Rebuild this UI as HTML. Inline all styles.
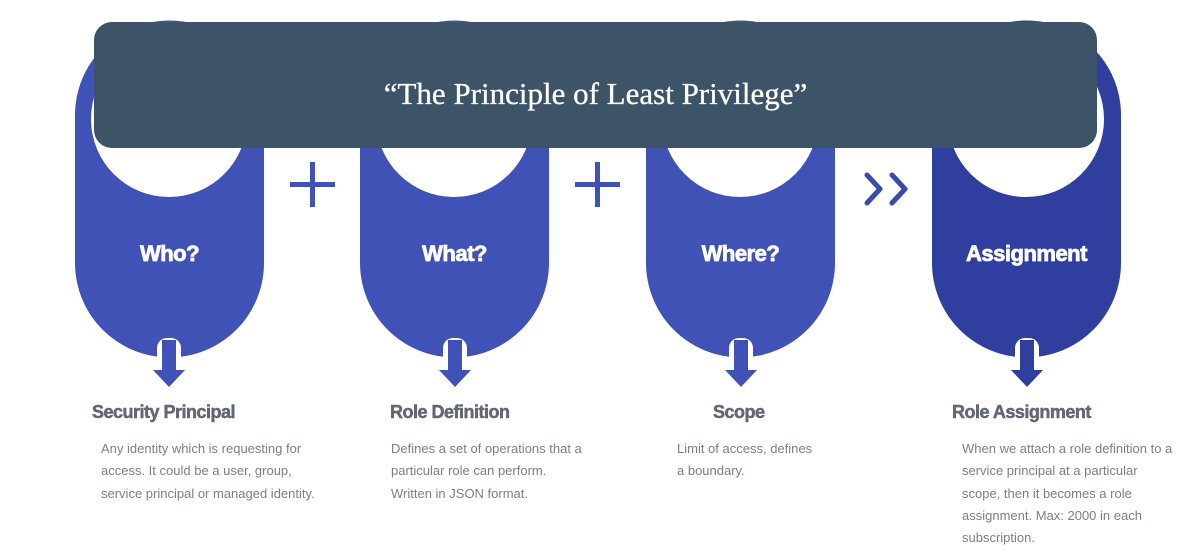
<!DOCTYPE html>
<html><head><meta charset="utf-8"><style>
body{margin:0;width:1195px;height:560px;background:#fff;position:relative;overflow:hidden;font-family:"Liberation Sans",sans-serif}
.t{position:absolute;color:#626873;font-weight:bold;font-size:18px;letter-spacing:-0.5px;-webkit-text-stroke:0.5px #626873}
.b{position:absolute;color:#7a7f87;font-size:13px;line-height:22.3px}
.w{position:absolute;color:#fff;font-weight:bold;font-size:22px;letter-spacing:-0.5px;text-align:center;width:189px;-webkit-text-stroke:0.8px #fff}
</style></head><body>
<svg width="1195" height="560" style="position:absolute;left:0;top:0">
<defs>
<g id="pill">
<path d="M0,115 A94.5,94.5 0 0 1 189,115 L189,263 A94.5,94.5 0 0 1 0,263 Z M16,119 A78,78 0 1 0 172,119 A78,78 0 1 0 16,119 Z" fill-rule="evenodd"/>
</g>
<g id="arr">
<rect x="-12" y="-20" width="24" height="32" rx="10" fill="#fff"/>
<rect x="-7" y="-18" width="14" height="30"/>
<polygon points="-16,12 16,12 0,29"/>
</g>
</defs>
<g fill="#4052b5"><use href="#pill" x="75" y="0"/><use href="#pill" x="360" y="0"/><use href="#pill" x="646" y="0"/></g>
<g fill="#303f9f"><use href="#pill" x="932" y="0"/></g>
<g fill="#4052b5"><use href="#arr" x="169" y="358"/><use href="#arr" x="455" y="358"/><use href="#arr" x="741" y="358"/></g>
<g fill="#303f9f"><use href="#arr" x="1027" y="358"/></g>
<rect x="94" y="22" width="1003" height="126" rx="18" fill="#3d5368"/>
<g fill="#4052b5"><rect x="290" y="182" width="45" height="5"/><rect x="310" y="162" width="5" height="45"/>
<rect x="575" y="182" width="45" height="5"/><rect x="595" y="162" width="5" height="45"/></g>
<g fill="none" stroke="#3a4aad" stroke-width="5" stroke-linecap="round" stroke-linejoin="round">
<polyline points="867,175 880,189 867,203"/><polyline points="892,175 905,189 892,203"/></g>
</svg>
<div style="position:absolute;left:94px;width:1003px;top:76px;text-align:center;color:#fff;font-family:'Liberation Serif',serif;font-size:31px;-webkit-text-stroke:0.3px #fff">“The Principle of Least Privilege”</div>
<div class="w" style="left:75px;top:241px">Who?</div>
<div class="w" style="left:360px;top:241px">What?</div>
<div class="w" style="left:646px;top:241px">Where?</div>
<div class="w" style="left:932px;top:241px">Assignment</div>
<div class="t" style="left:92px;top:402px">Security Principal</div>
<div class="t" style="left:390px;top:402px">Role Definition</div>
<div class="t" style="left:713px;top:402px">Scope</div>
<div class="t" style="left:952px;top:402px">Role Assignment</div>
<div class="b" style="left:101px;top:438px">Any identity which is requesting for<br>access. It could be a user, group,<br>service principal or managed identity.</div>
<div class="b" style="left:391px;top:438px">Defines a set of operations that a<br>particular role can perform.<br>Written in JSON format.</div>
<div class="b" style="left:677px;top:438px">Limit of access, defines<br>a boundary.</div>
<div class="b" style="left:962px;top:438px">When we attach a role definition to a<br>service principal at a particular<br>scope, then it becomes a role<br>assignment. Max: 2000 in each<br>subscription.</div>
</body></html>
